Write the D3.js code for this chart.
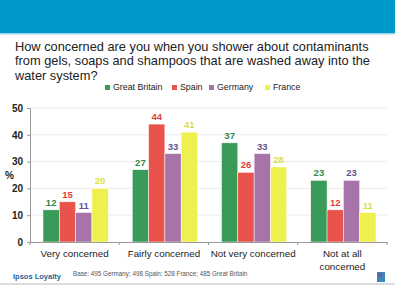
<!DOCTYPE html>
<html>
<head>
<meta charset="utf-8">
<script src="https://cdn.jsdelivr.net/npm/d3@7"></script>
<style>
  body { margin: 0; background: #fff; }
  svg { display: block; font-family: "Liberation Sans", Arial, sans-serif; }
</style>
</head>
<body>
<div id="chart"></div>
<script>
(function () {
    // chart data
    const categories = ["Very concerned", "Fairly concerned", "Not very concerned", "Not at all concerned"];
    const countries = ["Great Britain", "Spain", "Germany", "France"];
    const greatBritain = [12, 27, 37, 23];
    const spain = [15, 44, 26, 12];
    const germany = [11, 33, 33, 23];
    const france = [20, 41, 28, 11];
    const yTicks = [0, 10, 20, 30, 40, 50];

    const series = [greatBritain, spain, germany, france];
    const barColors = ["#3a9a58", "#e8534b", "#a873a8", "#eef050"];
    const labelColors = ["#2f8a4c", "#e0403a", "#6a4f8e", "#dede3a"];

    const width = 395, height = 287;
    const svg = d3.select("#chart").append("svg").attr("width", width).attr("height", height);

    // header band
    svg.append("rect").attr("x", 0).attr("y", 0).attr("width", width).attr("height", 33).attr("fill", "#0099cc");
    svg.append("rect").attr("x", 0).attr("y", 33).attr("width", width).attr("height", 1.5).attr("fill", "#9fd3e6");

    const title = ["How concerned are you when you shower about contaminants",
                   "from gels, soaps and shampoos that are washed away into the",
                   "water system?"];
    svg.append("g").selectAll("text").data(title).join("text")
        .attr("x", 15).attr("y", (d, i) => 51 + i * 14.3)
        .attr("font-size", 12.8).attr("fill", "#222")
        .text(d => d);

    // legend
    const legendX = [105, 172, 209, 265];
    const legend = svg.append("g").selectAll("g").data(countries).join("g")
        .attr("transform", (d, i) => `translate(${legendX[i]},86)`);
    legend.append("rect").attr("width", 5).attr("height", 5).attr("y", -1).attr("fill", (d, i) => barColors[i]);
    legend.append("text").attr("x", 8).attr("y", 4).attr("font-size", 8.8).attr("fill", "#222").text(d => d);

    // scales
    const x = d3.scaleBand().domain(categories).range([30, 387]);
    const xs = d3.scaleBand().domain(d3.range(countries.length)).range([13, x.bandwidth() - 11]).padding(0);
    const y = d3.scaleLinear().domain([0, 50]).range([242, 108]);

    // gridlines
    svg.append("g").selectAll("line").data(yTicks.slice(1)).join("line")
        .attr("x1", 30).attr("x2", 387).attr("y1", d => y(d)).attr("y2", d => y(d))
        .attr("stroke", "#ececec").attr("stroke-width", 1);

    // y axis
    const yAxis = svg.append("g").attr("transform", "translate(30,0)")
        .call(d3.axisLeft(y).tickValues(yTicks).tickSize(3).tickPadding(4));
    yAxis.select(".domain").attr("stroke", "#999");
    yAxis.selectAll(".tick line").attr("stroke", "#999");
    yAxis.selectAll("text").attr("font-size", 10).attr("font-weight", "bold").attr("fill", "#222")
        .attr("font-family", "Liberation Sans, Arial, sans-serif");
    svg.append("text").attr("x", 5).attr("y", 179).attr("font-size", 10).attr("font-weight", "bold").attr("fill", "#222").text("%");

    // bars
    const groups = svg.append("g").selectAll("g").data(categories).join("g")
        .attr("transform", d => `translate(${x(d)},0)`);
    series.forEach((vals, s) => {
        groups.append("rect")
            .attr("x", xs(s)).attr("width", xs.bandwidth())
            .attr("y", (d, i) => y(vals[i])).attr("height", (d, i) => y(0) - y(vals[i]))
            .attr("fill", barColors[s]).attr("stroke", "#fff").attr("stroke-width", 0.5);
        groups.append("text")
            .attr("x", xs(s) + xs.bandwidth() / 2).attr("y", (d, i) => y(vals[i]) - 4)
            .attr("text-anchor", "middle").attr("font-size", 9.5).attr("font-weight", "bold")
            .attr("fill", labelColors[s]).text((d, i) => vals[i]);
    });

    // x axis
    const xAxis = svg.append("g").attr("transform", "translate(0,242)")
        .call(d3.axisBottom(x).tickSize(0).tickFormat(""));
    xAxis.select(".domain").attr("stroke", "#999");
    svg.append("g").selectAll("line").data(categories.map(c => x(c)).concat([387])).join("line")
        .attr("x1", d => d).attr("x2", d => d).attr("y1", 242).attr("y2", 245).attr("stroke", "#999");

    const catLines = [["Very concerned"], ["Fairly concerned"], ["Not very concerned"], ["Not at all", "concerned"]];
    svg.append("g").selectAll("text").data(categories).join("text")
        .attr("x", d => x(d) + x.bandwidth() / 2).attr("y", 257)
        .attr("text-anchor", "middle").attr("font-size", 9.8).attr("fill", "#222")
        .each(function (d, i) {
            d3.select(this).selectAll("tspan").data(catLines[i]).join("tspan")
                .attr("x", x(d) + x.bandwidth() / 2).attr("dy", (t, j) => j ? 12.5 : 0).text(t => t);
        });

    // footer
    svg.append("text").attr("x", 13).attr("y", 279).attr("font-size", 7.5).attr("font-weight", "bold")
        .attr("fill", "#2d5f9a").text("Ipsos Loyalty");
    svg.append("text").attr("x", 73).attr("y", 276).attr("font-size", 6.3).attr("fill", "#555")
        .text("Base: 495 Germany; 498 Spain; 528 France; 485 Great Britain");
    svg.append("rect").attr("x", 377).attr("y", 272).attr("width", 8).attr("height", 10).attr("fill", "#3a8ab8");
    svg.append("rect").attr("x", 378).attr("y", 273).attr("width", 4).attr("height", 4).attr("fill", "#6a5ca8");
    svg.append("line").attr("x1", 0).attr("x2", width).attr("y1", 284).attr("y2", 284)
        .attr("stroke", "#bbb").attr("stroke-width", 1);
})();
</script>
</body>
</html>
